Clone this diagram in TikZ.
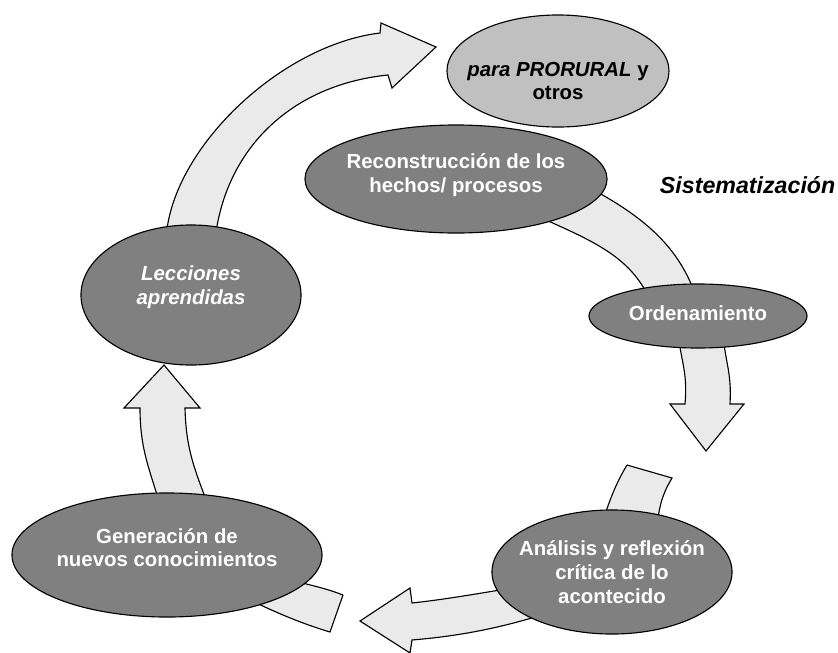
\documentclass[tikz,border=0pt]{standalone}
\usepackage{fontspec}
\setmainfont{Liberation Sans}
\usetikzlibrary{shapes.geometric}

\definecolor{bandgray}{HTML}{EAEAEA}
\definecolor{stagegray}{HTML}{808080}
\definecolor{lightstage}{HTML}{C0C0C0}

\tikzset{
  band/.style={fill=bandgray, draw=black, line width=0.8pt, line join=miter},
  stage/.style={ellipse, draw=black, line width=0.8pt, fill=stagegray, inner sep=0pt},
  stagetext/.style={text=white, align=center, font=\fontsize{14.5}{16.8}\selectfont\bfseries},
}

\begin{document}
\begin{tikzpicture}[x=0.025cm, y=-0.025cm]
	\useasboundingbox (0,0) rectangle (838,653);
	
	% bandas (flechas)
	\draw[band] (166,240) .. controls (170,150) and (280,45) .. (380,33) -- (381,23) -- (436,47) -- (392,88) -- (388,75)
	.. controls (290,85) and (225,150) .. (215,240) -- cycle;
	\draw[band] (535,215) .. controls (590,240) and (630,255) .. (650,300) -- (697,300)
	.. controls (680,245) and (640,215) .. (590,188) -- cycle;
	\draw[band] (678,330) .. controls (680,360) and (688,370) .. (685,404) -- (670,404) -- (706,451) -- (744,404) -- (730,404)
	.. controls (732,370) and (724,360) .. (723,330) -- cycle;
	\draw[band] (627,465) -- (672,478) .. controls (665,490) and (660,500) .. (657,525) -- (603,520)
	.. controls (610,500) and (615,485) .. (627,465);
	\draw[band] (500,590) .. controls (470,595) and (440,600) .. (412,603) -- (410,588) -- (360,621) -- (410,653) -- (412,640)
	.. controls (460,636) and (500,628) .. (545,614) -- cycle;
	\draw[band] (343,595) -- (330,632) .. controls (300,623) and (275,612) .. (250,600) -- (290,580)
	.. controls (310,585) and (325,588) .. (343,595);
	\draw[band] (160,505) .. controls (150,470) and (140,450) .. (140,408) -- (124,408) -- (164,365) -- (200,408) -- (185,408)
	.. controls (186,450) and (195,470) .. (208,505) -- cycle;
	
	% etapas
	\node[stage, fill=lightstage, minimum width=5.55cm, minimum height=2.8cm,
	label={[stagetext, text=black, yshift=-0.25cm]center:\textit{para PRORURAL} y\\otros}] (prorural) at (558,71) {};
	\node[stage, minimum width=7.55cm, minimum height=2.7cm,
	label={[stagetext, yshift=0.1cm]center:Reconstrucción de los\\hechos/ procesos}] (recon) at (456,179) {};
	\node[stage, minimum width=5.45cm, minimum height=1.6cm,
	label={[stagetext, yshift=0.07cm]center:Ordenamiento}] (orden) at (698,316) {};
	\node[stage, minimum width=6cm, minimum height=3.1cm,
	label={[stagetext]center:Análisis y reflexión\\crítica de lo\\acontecido}] (analisis) at (612,572) {};
	\node[stage, minimum width=7.75cm, minimum height=3.1cm,
	label={[stagetext, yshift=0.18cm]center:Generación de\\nuevos conocimientos}] (genera) at (167,555) {};
	\node[stage, minimum width=5.5cm, minimum height=3.5cm,
	label={[stagetext, font=\fontsize{14.5}{16.8}\selectfont\bfseries\itshape, yshift=0.2cm]center:Lecciones\\aprendidas}] (lecciones) at (191,295) {};
	
	\node[anchor=base west, font=\fontsize{16.5}{18}\selectfont\bfseries\itshape] (sist) at (655,193) {Sistematización};
\end{tikzpicture}
\end{document}
